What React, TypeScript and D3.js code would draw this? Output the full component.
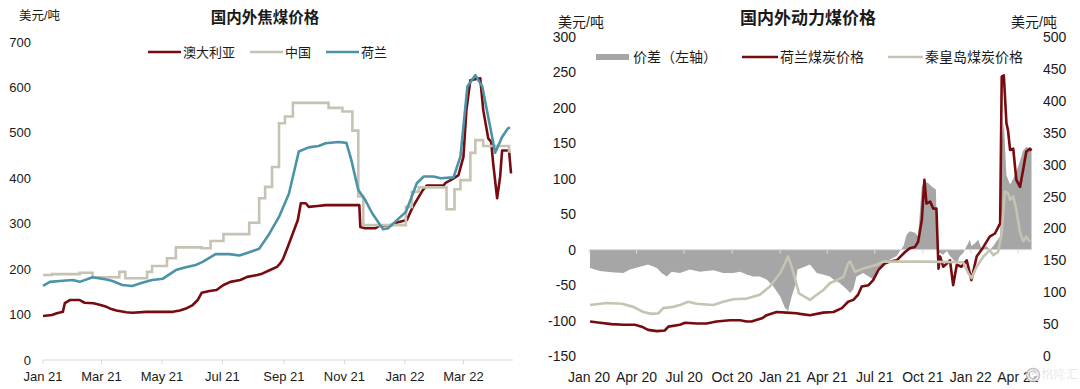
import React from "react";
import * as d3 from "d3";

type Pt = { date: Date; value: number };

const parse = d3.timeParse("%Y-%m-%d");
const fmtTick = d3.timeFormat("%b %y");

// ---------- 国内外焦煤价格 (left chart) ----------
const cokingTickDates = ["2021-01-01", "2021-03-01", "2021-05-01", "2021-07-01", "2021-09-01", "2021-11-01", "2022-01-01", "2022-03-01"];
const cokingYTicks = [0, 100, 200, 300, 400, 500, 600, 700];

const auDates = [
  "2021-01-01", "2021-01-10", "2021-01-15", "2021-01-21", "2021-01-23", "2021-01-28", "2021-02-07", "2021-02-12",
  "2021-02-21", "2021-02-28", "2021-03-06", "2021-03-11", "2021-03-16", "2021-03-26", "2021-04-01", "2021-04-15",
  "2021-05-12", "2021-05-19", "2021-05-26", "2021-06-01", "2021-06-06", "2021-06-10", "2021-06-18", "2021-06-25",
  "2021-07-02", "2021-07-09", "2021-07-19", "2021-07-26", "2021-08-05", "2021-08-10", "2021-08-18", "2021-08-25",
  "2021-08-28", "2021-08-31", "2021-09-05", "2021-09-10", "2021-09-15", "2021-09-18", "2021-09-23", "2021-09-26",
  "2021-10-05", "2021-10-13", "2021-11-16", "2021-11-17", "2021-11-22", "2021-12-02", "2021-12-06", "2021-12-19",
  "2021-12-26", "2022-01-03", "2022-01-06", "2022-01-09", "2022-01-13", "2022-01-19", "2022-01-23", "2022-02-09",
  "2022-02-11", "2022-02-18", "2022-02-24", "2022-03-01", "2022-03-04", "2022-03-08", "2022-03-18", "2022-03-21",
  "2022-03-26", "2022-03-29", "2022-03-31", "2022-04-04", "2022-04-07", "2022-04-09", "2022-04-16", "2022-04-18",
];
const auValues = [
  97, 99, 103, 106, 125, 132, 132, 126,
  125, 121, 117, 112, 109, 105, 104, 106,
  106, 109, 114, 121, 132, 148, 152, 154,
  165, 172, 176, 183, 187, 190, 198, 205,
  212, 222, 250, 279, 308, 345, 345, 337,
  339, 341, 341, 293, 290, 290, 295, 297,
  304, 308, 323, 337, 352, 374, 384, 384,
  390, 398, 407, 447, 550, 616, 620, 550,
  488, 480, 433, 356, 403, 461, 461, 411,
];

// China is a stepped series
const cnDates = [
  "2021-01-01", "2021-01-10", "2021-02-07", "2021-02-20", "2021-03-19", "2021-03-25", "2021-04-16", "2021-04-21",
  "2021-05-06", "2021-05-15", "2021-06-10", "2021-06-19", "2021-07-02", "2021-07-28", "2021-08-07", "2021-08-13",
  "2021-08-20", "2021-08-27", "2021-09-02", "2021-09-10", "2021-10-16", "2021-10-30", "2021-11-09", "2021-11-15",
  "2021-11-20", "2022-01-02", "2022-01-08", "2022-01-15", "2022-02-12", "2022-02-20", "2022-02-26", "2022-03-08",
  "2022-03-13", "2022-03-21", "2022-04-16", "2022-04-18",
];
const cnValues = [
  187, 189, 192, 182, 194, 180, 194, 207,
  224, 248, 246, 262, 277, 302, 356, 381,
  425, 521, 536, 566, 555, 547, 505, 360,
  297, 337, 370, 380, 332, 376, 396, 456,
  484, 471, 459, 459,
];

const nlDates = [
  "2021-01-01", "2021-01-08", "2021-01-18", "2021-01-31", "2021-02-07", "2021-02-20", "2021-03-06", "2021-03-12",
  "2021-03-22", "2021-04-01", "2021-04-11", "2021-04-21", "2021-05-02", "2021-05-15", "2021-05-25", "2021-06-04",
  "2021-06-11", "2021-06-24", "2021-07-08", "2021-07-18", "2021-07-28", "2021-08-07", "2021-08-17", "2021-08-27",
  "2021-09-06", "2021-09-16", "2021-09-26", "2021-10-06", "2021-10-13", "2021-10-26", "2021-11-03", "2021-11-08",
  "2021-11-15", "2021-11-22", "2021-11-29", "2021-12-10", "2021-12-15", "2021-12-22", "2022-01-02", "2022-01-13",
  "2022-01-20", "2022-01-30", "2022-02-06", "2022-02-19", "2022-02-26", "2022-03-05", "2022-03-13", "2022-03-20",
  "2022-03-28", "2022-04-02", "2022-04-09", "2022-04-15", "2022-04-17",
];
const nlValues = [
  163, 172, 174, 176, 172, 182, 177, 174,
  165, 163, 170, 176, 179, 198, 204, 209,
  216, 233, 233, 230, 237, 245, 277, 315,
  366, 459, 468, 471, 477, 480, 478, 440,
  374, 352, 323, 288, 290, 304, 326, 389,
  404, 404, 400, 402, 448, 602, 627, 602,
  513, 456, 491, 510, 512,
];

// ---------- 国内外动力煤价格 (right chart) ----------
const thermalTickDates = [
  "2020-01-01", "2020-04-01", "2020-07-01", "2020-10-01", "2021-01-01",
  "2021-04-01", "2021-07-01", "2021-10-01", "2022-01-01", "2022-04-01",
];
const spreadYTicks = [-150, -100, -50, 0, 50, 100, 150, 200, 250, 300];
const priceYTicks = [0, 50, 100, 150, 200, 250, 300, 350, 400, 450, 500];

const dutchDates = [
  "2020-01-03", "2020-01-22", "2020-02-13", "2020-03-07", "2020-03-29", "2020-04-11", "2020-04-23", "2020-05-10",
  "2020-05-25", "2020-06-01", "2020-06-23", "2020-07-03", "2020-07-25", "2020-08-13", "2020-09-01", "2020-09-27",
  "2020-10-16", "2020-10-29", "2020-11-07", "2020-11-27", "2020-12-06", "2020-12-25", "2021-01-13", "2021-02-01",
  "2021-02-08", "2021-02-27", "2021-03-24", "2021-04-13", "2021-04-29", "2021-05-11", "2021-05-21", "2021-05-30",
  "2021-06-06", "2021-06-19", "2021-06-28", "2021-07-08", "2021-07-20", "2021-07-30", "2021-08-12", "2021-08-28",
  "2021-09-06", "2021-09-16", "2021-09-22", "2021-09-29", "2021-10-04", "2021-10-08", "2021-10-15", "2021-10-21",
  "2021-10-27", "2021-10-31", "2021-11-03", "2021-11-09", "2021-11-16", "2021-11-22", "2021-11-28", "2021-12-05",
  "2021-12-14", "2021-12-24", "2022-01-02", "2022-01-12", "2022-01-25", "2022-02-06", "2022-02-16", "2022-02-26",
  "2022-03-01", "2022-03-05", "2022-03-10", "2022-03-13", "2022-03-17", "2022-03-23", "2022-03-29", "2022-04-05",
  "2022-04-11", "2022-04-17", "2022-04-24", "2022-04-27",
];
const dutchValues = [
  54, 52, 50, 49, 49, 46, 41, 39,
  40, 46, 49, 52, 51, 51, 54, 56,
  56, 54, 54, 59, 64, 69, 68, 67,
  66, 64, 68, 69, 75, 85, 88, 96,
  109, 111, 119, 135, 145, 148, 150, 163,
  169, 171, 179, 213, 276, 239, 242, 231,
  231, 137, 156, 140, 145, 150, 111, 143,
  140, 150, 119, 156, 171, 187, 192, 208,
  438, 440, 365, 354, 323, 325, 276, 265,
  292, 320, 325, 322,
];

const qhdDates = [
  "2020-01-03", "2020-02-04", "2020-03-04", "2020-03-26", "2020-04-14", "2020-04-30", "2020-05-13", "2020-05-22",
  "2020-06-10", "2020-06-23", "2020-07-09", "2020-07-25", "2020-08-26", "2020-09-14", "2020-10-03", "2020-10-29",
  "2020-11-23", "2020-12-12", "2021-01-01", "2021-01-10", "2021-01-16", "2021-01-23", "2021-01-30", "2021-02-06",
  "2021-02-27", "2021-03-12", "2021-03-24", "2021-04-06", "2021-04-19", "2021-05-02", "2021-05-11", "2021-05-15",
  "2021-05-24", "2021-06-09", "2021-07-05", "2021-07-17", "2021-10-02", "2021-12-17", "2021-12-27", "2022-01-02",
  "2022-01-12", "2022-01-25", "2022-02-06", "2022-02-13", "2022-02-22", "2022-03-01", "2022-03-07", "2022-03-13",
  "2022-03-17", "2022-03-23", "2022-03-29", "2022-04-05", "2022-04-11", "2022-04-17", "2022-04-24",
];
const qhdValues = [
  80, 83, 82, 77, 69, 66, 67, 75,
  77, 80, 85, 82, 80, 85, 89, 90,
  96, 109, 130, 145, 156, 140, 119, 98,
  88, 96, 103, 114, 119, 124, 145, 148,
  132, 137, 143, 148, 148, 147, 130, 122,
  140, 156, 166, 158, 163, 192, 258, 255,
  245, 250, 229, 194, 180, 187, 179,
];

const spreadDates = [
  "2020-01-03", "2020-01-22", "2020-02-13", "2020-03-07", "2020-03-19", "2020-04-08", "2020-04-23", "2020-05-10",
  "2020-05-19", "2020-05-29", "2020-06-07", "2020-06-23", "2020-07-12", "2020-07-31", "2020-08-26", "2020-09-14",
  "2020-10-03", "2020-10-16", "2020-10-29", "2020-11-10", "2020-11-23", "2020-12-06", "2020-12-19", "2021-01-01",
  "2021-01-10", "2021-01-16", "2021-01-23", "2021-01-30", "2021-02-03", "2021-02-13", "2021-02-27", "2021-03-12",
  "2021-03-24", "2021-04-06", "2021-04-13", "2021-04-25", "2021-05-08", "2021-05-15", "2021-05-21", "2021-05-27",
  "2021-06-09", "2021-06-28", "2021-07-05", "2021-07-17", "2021-07-30", "2021-08-12", "2021-08-18", "2021-08-25",
  "2021-08-31", "2021-09-06", "2021-09-16", "2021-09-22", "2021-09-29", "2021-10-05", "2021-10-11", "2021-10-18",
  "2021-10-26", "2021-10-29", "2021-11-09", "2021-11-16", "2021-11-22", "2021-11-28", "2021-12-05", "2021-12-11",
  "2021-12-17", "2021-12-24", "2021-12-30", "2022-01-02", "2022-01-09", "2022-01-15", "2022-01-22", "2022-01-31",
  "2022-02-06", "2022-02-13", "2022-02-19", "2022-02-26", "2022-03-01", "2022-03-05", "2022-03-10", "2022-03-17",
  "2022-03-23", "2022-03-29", "2022-04-05", "2022-04-11", "2022-04-17", "2022-04-24", "2022-04-27",
];
const spreadValues = [
  -26, -30, -32, -33, -28, -24, -21, -26,
  -33, -38, -31, -33, -28, -31, -29, -33,
  -33, -31, -35, -38, -38, -42, -52, -66,
  -82, -87, -66, -50, -28, -25, -21, -33,
  -35, -38, -42, -47, -56, -61, -56, -38,
  -33, -42, -28, -21, -14, -9, -2, 5,
  21, 26, 24, 19, 89, 96, 94, 89,
  85, -3, -7, -2, -9, -14, -19, -9,
  -5, 5, 14, 5, 9, 14, 0, 5,
  0, 5, 12, 19, 150, 180, 105, 92,
  100, 110, 125, 140, 145, 143, 140,
];

const FONT = "'Liberation Sans', Arial, 'Noto Sans CJK SC', sans-serif";
const RED = "#780b0f";
const BEIGE = "#c6c3b2";
const TEAL = "#4b93a7";
const GREY = "#a6a6a6";
const AXIS = "#d9d9d9";
const TEXT = "#1a1a1a";

const toPoints = (dates: string[], values: number[]): Pt[] =>
  dates.map((d, i) => ({ date: parse(d) as Date, value: values[i] }));

function CokingChart() {
  const x = d3.scaleTime()
    .domain([parse("2021-01-01") as Date, parse("2022-04-20") as Date])
    .range([43, 513]);
  const y = d3.scaleLinear().domain([0, 700]).range([360, 42]);

  const line = d3.line<Pt>().x(d => x(d.date)).y(d => y(d.value));
  const step = d3.line<Pt>().x(d => x(d.date)).y(d => y(d.value)).curve(d3.curveStepAfter);

  const legend = [
    { label: "澳大利亚", color: RED, x: 148 },
    { label: "中国", color: BEIGE, x: 250 },
    { label: "荷兰", color: TEAL, x: 326 },
  ];

  return (
    <g>
      <text x={265} y={17} textAnchor="middle" dominantBaseline="central" fontSize={15.5} fontWeight="bold" fill={TEXT}>
        国内外焦煤价格
      </text>
      <text x={19} y={16} dominantBaseline="central" fontSize={12.5} fill={TEXT}>美元/吨</text>

      {cokingYTicks.map(t => (
        <text key={t} x={31} y={y(t)} textAnchor="end" dominantBaseline="central" fontSize={13} fill={TEXT}>{t}</text>
      ))}

      <line x1={43} x2={513} y1={360} y2={360} stroke={AXIS} strokeWidth={1} />
      {cokingTickDates.map(s => {
        const d = parse(s) as Date;
        const px = x(d);
        return (
          <g key={s}>
            <line x1={px} x2={px} y1={360} y2={364} stroke={AXIS} />
            <text x={px} y={376} textAnchor="middle" dominantBaseline="central" fontSize={13} fill={TEXT}>{fmtTick(d)}</text>
          </g>
        );
      })}

      <path d={line(toPoints(auDates, auValues)) ?? ""} fill="none" stroke={RED} strokeWidth={2.6} strokeLinejoin="round" />
      <path d={step(toPoints(cnDates, cnValues)) ?? ""} fill="none" stroke={BEIGE} strokeWidth={2.6} />
      <path d={line(toPoints(nlDates, nlValues)) ?? ""} fill="none" stroke={TEAL} strokeWidth={2.6} strokeLinejoin="round" />

      {legend.map(l => (
        <g key={l.label}>
          <line x1={l.x} x2={l.x + 33} y1={52} y2={52} stroke={l.color} strokeWidth={2.6} />
          <text x={l.x + 35} y={52} dominantBaseline="central" fontSize={13} fill={TEXT}>{l.label}</text>
        </g>
      ))}
    </g>
  );
}

function ThermalChart() {
  const x = d3.scaleTime()
    .domain([parse("2020-01-01") as Date, parse("2022-04-27") as Date])
    .range([589, 1031.5]);
  const yL = d3.scaleLinear().domain([-150, 300]).range([356, 37]);
  const yR = d3.scaleLinear().domain([0, 500]).range([356, 37]);

  const area = d3.area<Pt>().x(d => x(d.date)).y0(yL(0)).y1(d => yL(d.value));
  const lineR = d3.line<Pt>().x(d => x(d.date)).y(d => yR(d.value));

  return (
    <g>
      <text x={808} y={18} textAnchor="middle" dominantBaseline="central" fontSize={17} fontWeight="bold" fill={TEXT}>
        国内外动力煤价格
      </text>
      <text x={558} y={22} dominantBaseline="central" fontSize={14} fill={TEXT}>美元/吨</text>
      <text x={1057} y={22} textAnchor="end" dominantBaseline="central" fontSize={14} fill={TEXT}>美元/吨</text>

      {spreadYTicks.map(t => (
        <text key={t} x={576} y={yL(t)} textAnchor="end" dominantBaseline="central" fontSize={14} fill={TEXT}>{t}</text>
      ))}
      {priceYTicks.map(t => (
        <text key={t} x={1043} y={yR(t)} dominantBaseline="central" fontSize={14} fill={TEXT}>{t}</text>
      ))}

      <path d={area(toPoints(spreadDates, spreadValues)) ?? ""} fill={GREY} />

      <line x1={589} x2={1031.5} y1={yL(0)} y2={yL(0)} stroke={AXIS} strokeWidth={1} />
      {thermalTickDates.map(s => {
        const d = parse(s) as Date;
        const px = x(d);
        return (
          <g key={s}>
            <line x1={px} x2={px} y1={yL(0)} y2={yL(0) + 4} stroke={AXIS} />
            <text x={px} y={377} textAnchor="middle" dominantBaseline="central" fontSize={14} fill={TEXT}>{fmtTick(d)}</text>
          </g>
        );
      })}

      <path d={lineR(toPoints(dutchDates, dutchValues)) ?? ""} fill="none" stroke={RED} strokeWidth={2.6} strokeLinejoin="round" />
      <path d={lineR(toPoints(qhdDates, qhdValues)) ?? ""} fill="none" stroke={BEIGE} strokeWidth={2.6} strokeLinejoin="round" />

      <rect x={596} y={54} width={33} height={6} fill={GREY} />
      <text x={633} y={57} dominantBaseline="central" fontSize={14} fill={TEXT}>价差（左轴）</text>
      <line x1={742} x2={778} y1={57} y2={57} stroke={RED} strokeWidth={2.6} />
      <text x={780} y={57} dominantBaseline="central" fontSize={14} fill={TEXT}>荷兰煤炭价格</text>
      <line x1={888} x2={923} y1={57} y2={57} stroke={BEIGE} strokeWidth={2.6} />
      <text x={925} y={57} dominantBaseline="central" fontSize={14} fill={TEXT}>秦皇岛煤炭价格</text>

      {/* watermark, drawn over the last tick label as in the source image */}
      <g opacity={0.85}>
        <circle cx={1033} cy={375} r={6.5} fill="#fff" stroke="#b8b8b8" strokeWidth={1.5} />
        <path d="M1036 372 A4 4 0 1 0 1036.5 377 L1033.5 377" fill="none" stroke="#b8b8b8" strokeWidth={1.3} />
        <text x={1041} y={375} dominantBaseline="central" fontSize={12.5} fill="#bdbdbd" stroke="#fff" strokeWidth={0.5}>格隆汇</text>
      </g>
    </g>
  );
}

export default function App() {
  return (
    <svg
      width={1080}
      height={389}
      style={{ position: "absolute", left: 0, top: 0, background: "#fff", fontFamily: FONT }}
    >
      <rect width={1080} height={389} fill="#fff" />
      <CokingChart />
      <ThermalChart />
    </svg>
  );
}
